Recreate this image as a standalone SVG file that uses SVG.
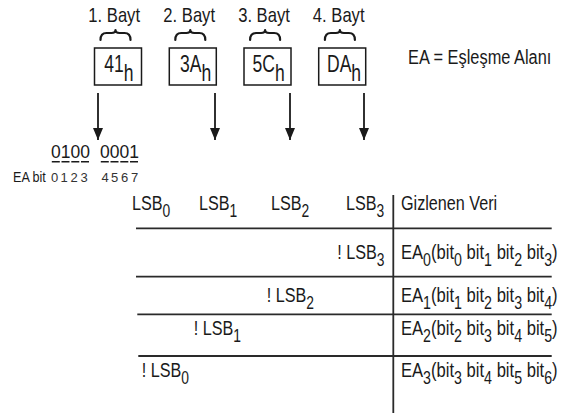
<svg xmlns="http://www.w3.org/2000/svg" width="566" height="419" viewBox="0 0 566 419">
<defs>
<style>
text{font-family:"Liberation Sans",Arial,Helvetica,sans-serif;fill:#1a1a1a}
.t{font-size:21px}
.b{font-size:24px}
.lbl{font-size:20.5px;text-anchor:middle}
.sm{font-size:14px}
.dg{font-size:13px;text-anchor:middle;fill:#333}
.bits{font-size:17.5px}
.end{text-anchor:end}
.sub{font-size:18px}
.box{fill:#fff;stroke:#1a1a1a;stroke-width:1.5}
.brace{fill:none;stroke:#1a1a1a;stroke-width:2.2;stroke-linecap:round;stroke-linejoin:round}
.rule{stroke:#2a2a2a;stroke-width:1.8;fill:none}
.ul{stroke:#1a1a1a;stroke-width:1.4;fill:none}
.arrow{stroke:#1a1a1a;stroke-width:1.8;fill:none;marker-end:url(#ah)}
</style>
<marker id="ah" markerUnits="userSpaceOnUse" viewBox="0 0 12 10" markerWidth="12" markerHeight="10" refX="12" refY="5" orient="auto"><path d="M0,0 L12,5 L0,10 z" fill="#1a1a1a"/></marker>
<path id="brace" d="M0,10 q0,-7 6,-7 h5 q4,0 4,-3 q0,3 4,3 h5 q6,0 6,7"/>
</defs>
<rect width="566" height="419" fill="#fff"/>

<g id="byte1">
<text class="lbl" transform="translate(114.2,22) scale(0.81,1)">1. Bayt</text>
<use href="#brace" class="brace" transform="translate(100.5,30)"/>
<rect class="box" x="94.5" y="48" width="47" height="37"/>
<text class="b" transform="translate(104.2,71.5) scale(0.73,1)">41<tspan dy="9">h</tspan></text>
</g>
<g id="byte2">
<text class="lbl" transform="translate(189.2,22) scale(0.81,1)">2. Bayt</text>
<use href="#brace" class="brace" transform="translate(175.3,30)"/>
<rect class="box" x="169.3" y="48" width="47" height="37"/>
<text class="b" transform="translate(180,71.5) scale(0.73,1)">3A<tspan dy="9">h</tspan></text>
</g>
<g id="byte3">
<text class="lbl" transform="translate(264,22) scale(0.81,1)">3. Bayt</text>
<use href="#brace" class="brace" transform="translate(250.1,30)"/>
<rect class="box" x="244" y="48" width="47" height="37"/>
<text class="b" transform="translate(252.6,71.5) scale(0.73,1)">5C<tspan dy="9">h</tspan></text>
</g>
<g id="byte4">
<text class="lbl" transform="translate(338.7,22) scale(0.81,1)">4. Bayt</text>
<use href="#brace" class="brace" transform="translate(324.9,30)"/>
<rect class="box" x="318.7" y="48" width="47" height="37"/>
<text class="b" transform="translate(327,71.5) scale(0.73,1)">DA<tspan dy="9">h</tspan></text>
</g>

<g id="legend">
<text class="t" transform="translate(408,64) scale(0.78,1)">EA = Eşleşme Alanı</text>
</g>

<g id="bits">
<text class="bits" x="51 60.75 70.5 80.25 100 109.75 119.5 129.25" y="158.3">01000001</text>
<path class="ul" d="M51.8,161.8h8 M61.5,161.8h8 M71.3,161.8h8 M81,161.8h8 M100.8,161.8h8 M110.5,161.8h8 M120.3,161.8h8 M130,161.8h8"/>
<text class="sm" transform="translate(13,181.7) scale(0.9,1)">EA bit</text>
<text class="dg" x="54.5 64 74 84 105 114.5 124.5 134.5" y="181.7">01234567</text>
</g>

<g id="connectors">
<line class="arrow" x1="98" y1="93" x2="98" y2="140"/>
<line class="arrow" x1="215" y1="93" x2="215" y2="140"/>
<line class="arrow" x1="290" y1="93" x2="290" y2="140"/>
<line class="arrow" x1="364" y1="93" x2="364" y2="140"/>
</g>

<g id="table">
<path class="rule" d="M393.3,195V413 M136,228.3H551.7 M136,276.7H551.7 M137.3,314.3H551.7 M138.3,356H551.7"/>
<text class="t" transform="translate(132,210) scale(0.77,1)">LSB<tspan class="sub" dy="7">0</tspan></text>
<text class="t" transform="translate(199,210) scale(0.77,1)">LSB<tspan class="sub" dy="7">1</tspan></text>
<text class="t" transform="translate(271,210) scale(0.77,1)">LSB<tspan class="sub" dy="7">2</tspan></text>
<text class="t" transform="translate(346,210) scale(0.77,1)">LSB<tspan class="sub" dy="7">3</tspan></text>
<text class="t" transform="translate(401,210) scale(0.77,1)">Gizlenen Veri</text>

<text class="t end" transform="translate(384.5,259) scale(0.77,1)">! LSB<tspan class="sub" dy="7">3</tspan></text>
<text class="t end" transform="translate(314,302) scale(0.77,1)">! LSB<tspan class="sub" dy="7">2</tspan></text>
<text class="t end" transform="translate(241,335) scale(0.77,1)">! LSB<tspan class="sub" dy="7">1</tspan></text>
<text class="t end" transform="translate(189,377) scale(0.77,1)">! LSB<tspan class="sub" dy="7">0</tspan></text>

<text class="t" transform="translate(401,259) scale(0.79,1)">EA<tspan class="sub" dy="7">0</tspan><tspan dy="-7">(bit</tspan><tspan class="sub" dy="7">0</tspan><tspan dy="-7"> bit</tspan><tspan class="sub" dy="7">1</tspan><tspan dy="-7"> bit</tspan><tspan class="sub" dy="7">2</tspan><tspan dy="-7"> bit</tspan><tspan class="sub" dy="7">3</tspan><tspan dy="-7">)</tspan></text>
<text class="t" transform="translate(401,302) scale(0.79,1)">EA<tspan class="sub" dy="7">1</tspan><tspan dy="-7">(bit</tspan><tspan class="sub" dy="7">1</tspan><tspan dy="-7"> bit</tspan><tspan class="sub" dy="7">2</tspan><tspan dy="-7"> bit</tspan><tspan class="sub" dy="7">3</tspan><tspan dy="-7"> bit</tspan><tspan class="sub" dy="7">4</tspan><tspan dy="-7">)</tspan></text>
<text class="t" transform="translate(401,335) scale(0.79,1)">EA<tspan class="sub" dy="7">2</tspan><tspan dy="-7">(bit</tspan><tspan class="sub" dy="7">2</tspan><tspan dy="-7"> bit</tspan><tspan class="sub" dy="7">3</tspan><tspan dy="-7"> bit</tspan><tspan class="sub" dy="7">4</tspan><tspan dy="-7"> bit</tspan><tspan class="sub" dy="7">5</tspan><tspan dy="-7">)</tspan></text>
<text class="t" transform="translate(401,377) scale(0.79,1)">EA<tspan class="sub" dy="7">3</tspan><tspan dy="-7">(bit</tspan><tspan class="sub" dy="7">3</tspan><tspan dy="-7"> bit</tspan><tspan class="sub" dy="7">4</tspan><tspan dy="-7"> bit</tspan><tspan class="sub" dy="7">5</tspan><tspan dy="-7"> bit</tspan><tspan class="sub" dy="7">6</tspan><tspan dy="-7">)</tspan></text>
</g>
</svg>
